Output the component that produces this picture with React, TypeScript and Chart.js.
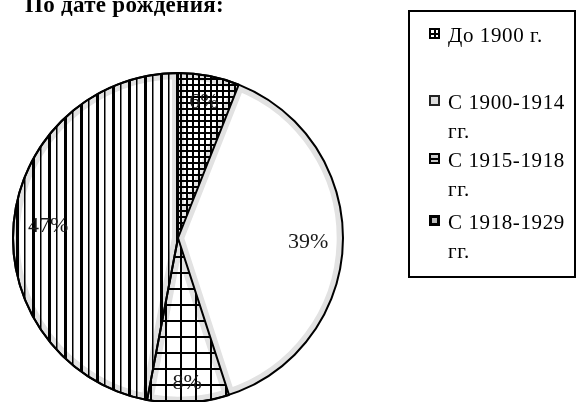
import React, { useEffect, useRef } from 'react';
import { Chart, registerables } from 'chart.js';

Chart.register(...registerables);

// ---- data ----
const title = 'По дате рождения:';
const categories = ['До 1900 г.', 'С 1900-1914 гг.', 'С 1915-1918 гг.', 'С 1918-1929 гг.'];
const shares = [6, 39, 8, 47];
const percentLabels = ['6%', '39%', '8%', '47%'];

// ---- styles ----
const patternKinds: (string | null)[] = ['fineGrid', null, 'coarseGrid', 'stripes'];
const labelRadius = [0.84, 0.79, 0.88, 0.79];
const legendBaselines = [43, 110, 168, 230];

function makePattern(kind: string | null, ctx: CanvasRenderingContext2D): CanvasPattern | null {
  if (!kind) return null;
  const c = document.createElement('canvas');
  const g = c.getContext('2d')!;
  g.fillStyle = '#000';
  if (kind === 'fineGrid') {
    c.width = 6; c.height = 6;
    g.fillRect(0, 0, 6, 2);
    g.fillRect(0, 0, 2, 6);
  } else if (kind === 'coarseGrid') {
    c.width = 15; c.height = 16;
    g.fillRect(0, 0, 15, 2);
    g.fillRect(0, 0, 2, 16);
  } else {
    c.width = 16; c.height = 4;
    g.fillRect(0, 0, 3, 4);
    g.fillRect(8, 0, 1.5, 4);
  }
  return ctx.createPattern(c, 'repeat');
}

const overlayPlugin = {
  id: 'overlay',
  afterDatasetsDraw(chart: any) {
    const ctx: CanvasRenderingContext2D = chart.ctx;
    const meta = chart.getDatasetMeta(0);
    let cx = 0, cy = 0, R = 0;
    const props: any[] = [];
    meta.data.forEach((arc: any, i: number) => {
      const p = arc.getProps(['x', 'y', 'startAngle', 'endAngle', 'outerRadius'], true);
      props.push(p);
      cx = p.x; cy = p.y; R = p.outerRadius;
      const pat = makePattern(patternKinds[i], ctx);
      if (!pat) return;
      ctx.save();
      ctx.beginPath();
      ctx.moveTo(p.x, p.y);
      ctx.arc(p.x, p.y, p.outerRadius, p.startAngle, p.endAngle);
      ctx.closePath();
      ctx.fillStyle = pat;
      ctx.fill();
      ctx.lineWidth = 2;
      ctx.lineJoin = 'round';
      ctx.strokeStyle = '#000';
      ctx.stroke();
      ctx.restore();
    });
    ctx.save();
    ctx.beginPath();
    ctx.arc(cx, cy, R, 0, Math.PI * 2);
    ctx.lineWidth = 2;
    ctx.strokeStyle = '#000';
    ctx.stroke();
    ctx.restore();

    ctx.save();
    ctx.font = '22px "Liberation Serif"';
    ctx.fillStyle = '#1a1a1a';
    ctx.textAlign = 'center';
    ctx.textBaseline = 'middle';
    props.forEach((p, i) => {
      const mid = (p.startAngle + p.endAngle) / 2;
      const r = p.outerRadius * labelRadius[i];
      ctx.fillText(percentLabels[i], p.x + Math.cos(mid) * r, p.y + Math.sin(mid) * r);
    });
    ctx.restore();
  },
};

const iconStyles: React.CSSProperties[] = [
  {
    border: '2px solid #000',
    background:
      'linear-gradient(#000,#000) center/100% 2px no-repeat, linear-gradient(#000,#000) center/2px 100% no-repeat, #fff',
  },
  { border: '2px solid #222', background: '#ddd' },
  { border: '2px solid #000', background: 'linear-gradient(#000,#000) center/100% 2px no-repeat, #ccc' },
  { border: '3px solid #000', background: '#bbb' },
];

export default function App() {
  const ref = useRef<HTMLCanvasElement>(null);
  useEffect(() => {
    const canvas = ref.current!;
    const chart = new Chart(canvas, {
      type: 'pie',
      data: {
        labels: categories,
        datasets: [
          {
            data: shares,
            backgroundColor: '#fff',
            borderColor: '#e2e2e2',
            borderWidth: 6,
            borderAlign: 'inner',
            radius: 165,
            clip: false,
            hoverOffset: 0,
          } as any,
        ],
      },
      options: {
        responsive: false,
        animation: false,
        events: [],
        layout: { padding: { left: 13, right: 235, top: 73, bottom: 7 } },
        plugins: { legend: { display: false }, tooltip: { enabled: false }, title: { display: false } },
      },
      plugins: [overlayPlugin],
    });
    return () => chart.destroy();
  }, []);

  return (
    <div
      style={{
        position: 'absolute',
        left: 0,
        top: 0,
        width: 578,
        height: 402,
        overflow: 'hidden',
        background: '#fff',
        fontFamily: '"Liberation Serif", serif',
        color: '#000',
      }}
    >
      <canvas ref={ref} width={578} height={410} style={{ position: 'absolute', left: 0, top: 0, width: 578, height: 410 }} />
      <div
        style={{
          position: 'absolute',
          left: 25,
          top: -7,
          fontWeight: 'bold',
          fontSize: 23,
          lineHeight: '23px',
          letterSpacing: 0.3,
          whiteSpace: 'nowrap',
        }}
      >
        {title}
      </div>
      <div
        style={{
          position: 'absolute',
          left: 408,
          top: 10,
          width: 168,
          height: 268,
          border: '2px solid #000',
          boxSizing: 'border-box',
        }}
      />
      {categories.map((c, i) => (
        <React.Fragment key={c}>
          <div
            style={{
              position: 'absolute',
              left: 429,
              top: legendBaselines[i] - 15,
              width: 11,
              height: 11,
              boxSizing: 'border-box',
              ...iconStyles[i],
            }}
          />
          <div
            style={{
              position: 'absolute',
              left: 448,
              top: legendBaselines[i] - 21.6,
              width: 124,
              fontSize: 21,
              lineHeight: '29px',
              letterSpacing: 0.6,
            }}
          >
            {c}
          </div>
        </React.Fragment>
      ))}
    </div>
  );
}
